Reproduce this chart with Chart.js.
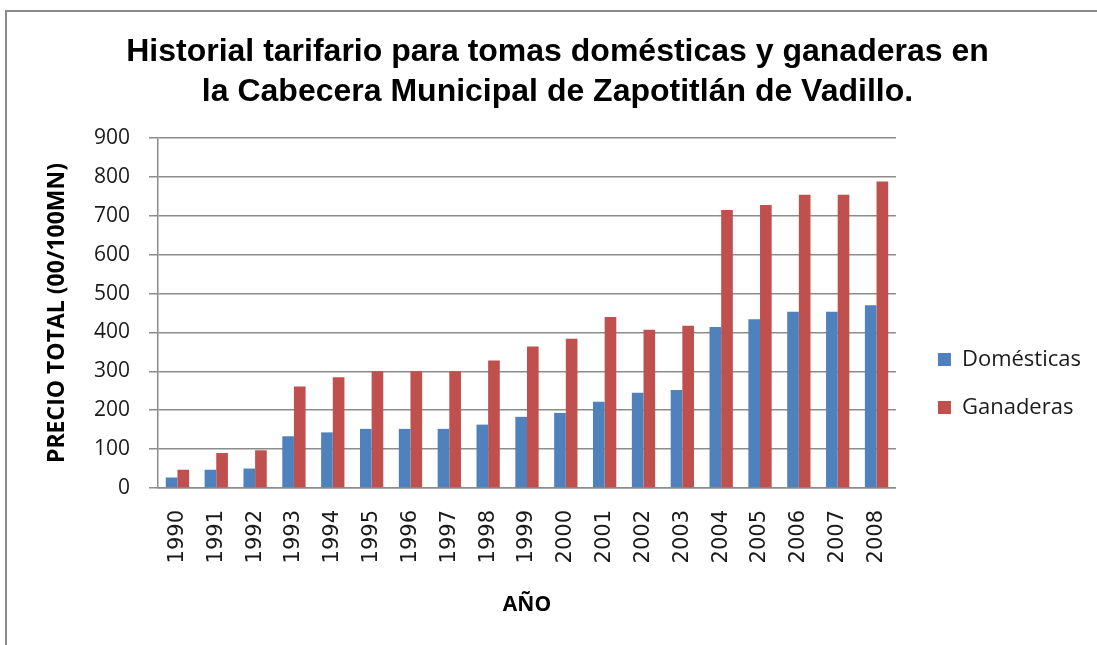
<!DOCTYPE html>
<html>
<head>
<meta charset="utf-8">
<script src="https://cdn.jsdelivr.net/npm/chart.js@4"></script>
<style>
  html, body { margin: 0; padding: 0; background: #fff; }
  #frame {
    position: absolute; left: 5px; top: 10px; width: 1092px; height: 635px;
    border-left: 2px solid #8a8a8a; border-top: 2px solid #8a8a8a;
  }
  #wrap { position: absolute; left: 0; top: 0; width: 1097px; height: 645px; }
</style>
</head>
<body>
<div id="frame"></div>
<div id="wrap"><canvas id="chart"></canvas></div>
<script>
// datos
const years = ['1990', '1991', '1992', '1993', '1994', '1995', '1996', '1997', '1998', '1999',
  '2000', '2001', '2002', '2003', '2004', '2005', '2006', '2007', '2008'];
const domesticas = [27, 47, 50, 133, 143, 152, 152, 152, 163, 183,
  193, 222, 245, 252, 414, 434, 453, 453, 470];
const ganaderas = [47, 90, 97, 261, 285, 300, 300, 300, 328, 364,
  384, 440, 407, 417, 715, 728, 754, 754, 788];
const yTicks = [0, 100, 200, 300, 400, 500, 600, 700, 800, 900];

const COLORS = {
  blue: '#4F81BD',
  red: '#C0504D',
  grid: '#8c8c8c',
  text: '#1a1a1a'
};
const BODY_FONT = "'Open Sans', 'Liberation Sans', sans-serif";

// mueve la leyenda al lugar que ocupa en el original
const legendShift = {
  id: 'legendShift',
  afterLayout(chart) {
    const lg = chart.legend;
    if (!lg) return;
    const w = lg.width;
    lg.left = chart.chartArea.right + 16;
    lg.right = lg.left + w;
    lg.top += 61;
    lg.bottom += 61;
  }
};

new Chart(document.getElementById('chart'), {
  type: 'bar',
  data: {
    labels: years,
    datasets: [
      { label: 'Domésticas', data: domesticas, backgroundColor: COLORS.blue,
        categoryPercentage: 0.6, barPercentage: 1.0 },
      { label: 'Ganaderas', data: ganaderas, backgroundColor: COLORS.red,
        categoryPercentage: 0.6, barPercentage: 1.0 }
    ]
  },
  options: {
    responsive: true,
    maintainAspectRatio: false,
    animation: false,
    layout: { padding: { left: 40, right: 22, top: 10, bottom: 10 } },
    plugins: {
      title: {
        display: true,
        text: ['Historial tarifario para tomas domésticas y ganaderas en',
               'la Cabecera Municipal de Zapotitlán de Vadillo.'],
        color: '#000',
        font: { family: "'Liberation Sans', Arial, sans-serif", size: 32, weight: 'bold', lineHeight: 1.25 },
        padding: { top: 22, bottom: 26 }
      },
      legend: {
        position: 'right',
        labels: {
          boxWidth: 13,
          boxHeight: 13,
          padding: 26,
          color: COLORS.text,
          font: { family: BODY_FONT, size: 22 }
        }
      },
      tooltip: { enabled: false }
    },
    scales: {
      x: {
        grid: { display: false, drawTicks: false },
        border: { display: true, color: COLORS.grid, width: 1.5 },
        ticks: {
          autoSkip: false, minRotation: 90, maxRotation: 90, padding: 22,
          color: COLORS.text,
          font: { family: "'DejaVu Sans', sans-serif", size: 21 }
        },
        title: {
          display: true, text: 'AÑO', color: '#000',
          font: { family: BODY_FONT, size: 21, weight: 'bold' },
          padding: { top: 4, bottom: 17 }
        },
        afterFit(scale) { scale.height = 147; }
      },
      y: {
        min: 0,
        max: 900,
        afterBuildTicks(scale) { scale.ticks = yTicks.map(v => ({ value: v })); },
        grid: { color: COLORS.grid, lineWidth: 1.5, tickLength: 9 },
        border: { display: true, color: COLORS.grid, width: 1.5 },
        ticks: {
          padding: 19, color: COLORS.text,
          font: { family: BODY_FONT, size: 21 }
        },
        title: {
          display: true, text: 'PRECIO TOTAL (00/100MN)', color: '#000',
          font: { family: BODY_FONT, size: 23, weight: 'bold' },
          padding: { top: 4, bottom: 0 }
        },
        afterFit(scale) { scale.width = 118; }
      }
    }
  },
  plugins: [legendShift]
});
</script>
</body>
</html>
